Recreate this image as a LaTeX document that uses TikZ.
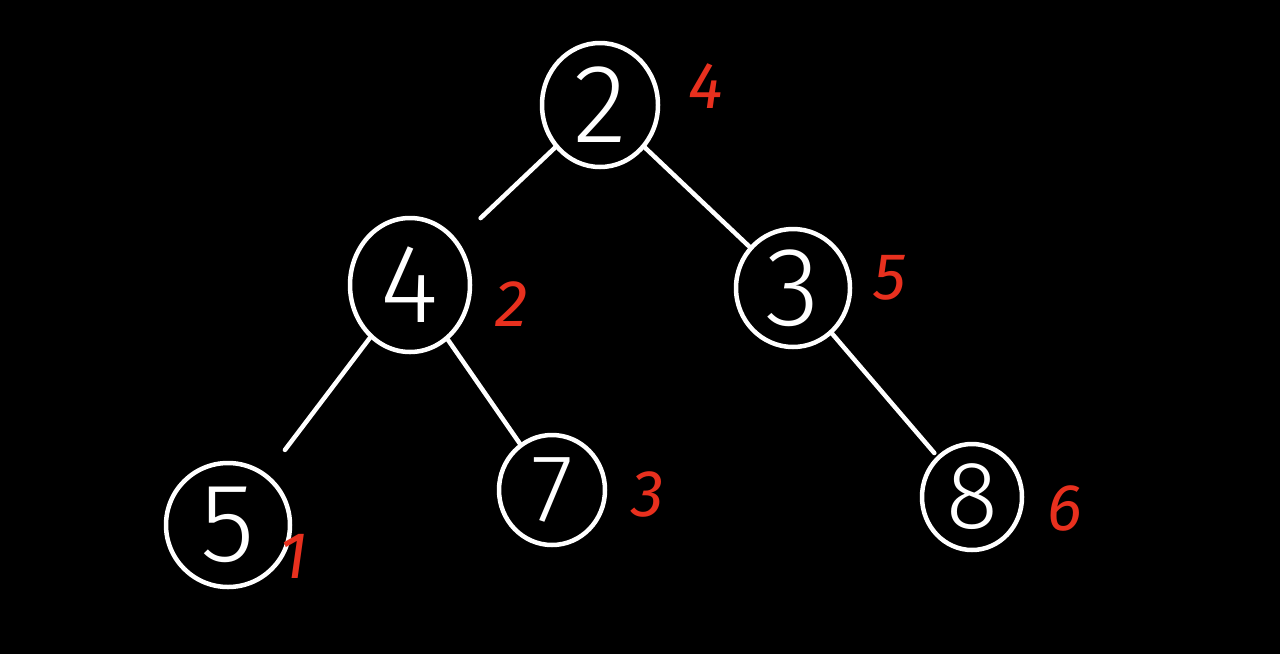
\documentclass[tikz,border=0pt]{standalone}
\usepackage{fontspec}
\setmainfont{Fira Sans Light}
\newfontfamily\labfont{Fira Sans}
\usetikzlibrary{shapes.geometric}
\definecolor{labred}{RGB}{232,48,30}
\begin{document}
\begin{tikzpicture}[x=1pt,y=-1pt,
  tn/.style={ellipse,draw=white,line width=4.5pt,text=white,inner sep=0pt,
    font=\fontsize{112}{112}\selectfont},
  small/.style={font=\fontsize{96}{96}\selectfont},
  lab/.style={text=labred,font=\labfont\itshape\fontsize{66}{66}\selectfont},
  ed/.style={draw=white,line width=4.5pt,line cap=round}]
\fill[black] (0,0) rectangle (1280,654);
\useasboundingbox (0,0) rectangle (1280,654);
\node[tn,minimum width=116pt,minimum height=124pt] (n2) at (600,105) {2};
\node[tn,minimum width=120pt,minimum height=134pt] (n4) at (410,285) {4};
\node[tn,minimum width=114pt,minimum height=118pt] (n3) at (793,288) {3};
\node[tn,minimum width=124pt,minimum height=124pt] (n5) at (228,525) {5};
\node[tn,small,minimum width=106pt,minimum height=110pt] (n7) at (552,490) {7};
\node[tn,small,minimum width=100pt,minimum height=106pt] (n8) at (972,497) {8};
\node[lab] (l2) at (706,86) {4};
\node[lab] (l4) at (512,304) {2};
\node[lab] (l3) at (890,278) {5};
\node[lab] (l5) at (294,556) {1};
\node[lab] (l7) at (648,494) {3};
\node[lab] (l8) at (1065,508) {6};
\draw[ed,shorten >=32pt] (n2) -- (n4);
\draw[ed] (n2) -- (n3);
\draw[ed,shorten >=30pt] (n4) -- (n5);
\draw[ed] (n4) -- (n7);
\draw[ed,shorten >=4pt] (n3) -- (n8);
\end{tikzpicture}
\end{document}
